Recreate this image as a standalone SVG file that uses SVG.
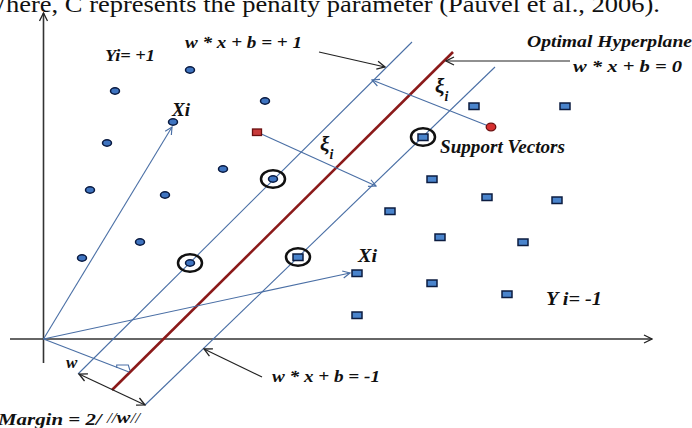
<svg xmlns="http://www.w3.org/2000/svg" width="692" height="428" viewBox="0 0 692 428">
<style>
.lbl{font-family:"Liberation Serif","Times New Roman",serif;font-style:italic;font-weight:bold;fill:#111}
.dot{fill:#3f74c0;stroke:#0a1a40;stroke-width:1.5}
.sq{fill:#4a84cc;stroke:#0c1c40;stroke-width:1.5}
.ring{fill:none;stroke:#111;stroke-width:2.5}
.bl{stroke:#4a6fa5;stroke-width:1.1;fill:none}
.bk{stroke:#222;stroke-width:1.2;fill:none}
.ax{stroke:#333;stroke-width:1.6;fill:none}
</style>
<defs>
<marker id="ab" viewBox="0 0 10 10" refX="9" refY="5" markerWidth="9" markerHeight="9" orient="auto-start-reverse" markerUnits="userSpaceOnUse"><path d="M1,1 L9,5 L1,9" fill="none" stroke="#4a6fa5" stroke-width="1.3"/></marker>
<marker id="ak" viewBox="0 0 10 10" refX="9" refY="5" markerWidth="10" markerHeight="10" orient="auto-start-reverse" markerUnits="userSpaceOnUse"><path d="M1,1 L9,5 L1,9" fill="none" stroke="#222" stroke-width="1.3"/></marker>
</defs>
<rect width="692" height="428" fill="#fff"/>
<text x="-19" y="12" font-family="Liberation Serif,Times New Roman,serif" font-size="23" fill="#111" textLength="679" lengthAdjust="spacingAndGlyphs">Where, C represents the penalty parameter (Pauvel et al., 2006).</text>

<g id="connectors">
<line class="ax" x1="43.5" y1="363" x2="43.5" y2="13" marker-end="url(#ak)"/>
<line class="ax" x1="10" y1="339" x2="652" y2="339" marker-end="url(#ak)"/>
<line class="bl" x1="412" y1="42" x2="78" y2="374"/>
<line class="bl" x1="495" y1="67" x2="145" y2="405"/>
<line x1="453" y1="52" x2="112" y2="390" stroke="#8b1a1a" stroke-width="2.6"/>
<line class="bl" x1="43.5" y1="339" x2="172" y2="127" marker-end="url(#ab)"/>
<line class="bl" x1="43.5" y1="339" x2="350" y2="273" marker-end="url(#ab)"/>
<line class="bl" x1="43.5" y1="339" x2="129" y2="372"/>
<polyline class="bl" points="116.7,368 116.7,365 128.3,365 130,370.5"/>
<line class="bl" x1="257" y1="132" x2="376" y2="186" marker-end="url(#ab)"/>
<line class="bl" x1="491" y1="127" x2="372" y2="80" marker-end="url(#ab)"/>
<line class="bk" x1="319" y1="52" x2="385" y2="67" marker-end="url(#ak)"/>
<line class="bk" x1="570" y1="61" x2="446" y2="61" marker-end="url(#ak)"/>
<line class="bk" x1="262" y1="377" x2="204" y2="349" marker-end="url(#ak)"/>
<line class="bk" x1="79" y1="374" x2="145" y2="405" marker-start="url(#ak)" marker-end="url(#ak)"/>
</g>

<g id="pos1"><ellipse class="dot" cx="190" cy="70" rx="4.5" ry="3.2"/></g>
<g id="pos2"><ellipse class="dot" cx="115" cy="91" rx="4.5" ry="3.2"/></g>
<g id="pos3"><ellipse class="dot" cx="265" cy="101" rx="4.5" ry="3.2"/></g>
<g id="pos4"><ellipse class="dot" cx="173" cy="122" rx="4.5" ry="3.2"/></g>
<g id="pos5"><ellipse class="dot" cx="107" cy="143" rx="4.5" ry="3.2"/></g>
<g id="pos6"><ellipse class="dot" cx="223" cy="169" rx="4.5" ry="3.2"/></g>
<g id="pos7"><ellipse class="dot" cx="90" cy="190" rx="4.5" ry="3.2"/></g>
<g id="pos8"><ellipse class="dot" cx="165" cy="195" rx="4.5" ry="3.2"/></g>
<g id="pos9"><ellipse class="dot" cx="140" cy="242" rx="4.5" ry="3.2"/></g>
<g id="pos10"><ellipse class="dot" cx="82" cy="258" rx="4.5" ry="3.2"/></g>
<g id="sv1"><ellipse class="dot" cx="273" cy="179" rx="4.5" ry="3.2"/><ellipse class="ring" cx="273" cy="179" rx="12" ry="8.8"/></g>
<g id="sv2"><ellipse class="dot" cx="190" cy="263" rx="4.5" ry="3.2"/><ellipse class="ring" cx="190" cy="263" rx="12" ry="8.8"/></g>
<g id="outlierSq"><rect x="252.5" y="129" width="9" height="6.5" fill="#c83a3a" stroke="#6a0f0f" stroke-width="1.3"/></g>
<g id="outlierDot"><ellipse cx="491" cy="127" rx="4.8" ry="3.8" fill="#d63030" stroke="#6a0f0f" stroke-width="1.3"/></g>

<g id="neg1"><rect class="sq" x="469" y="103" width="10" height="6.5"/></g>
<g id="neg2"><rect class="sq" x="560" y="103" width="10" height="6.5"/></g>
<g id="neg3"><rect class="sq" x="427" y="176" width="10" height="6.5"/></g>
<g id="neg4"><rect class="sq" x="482" y="194" width="10" height="6.5"/></g>
<g id="neg5"><rect class="sq" x="552" y="197" width="10" height="6.5"/></g>
<g id="neg6"><rect class="sq" x="385" y="208" width="10" height="6.5"/></g>
<g id="neg7"><rect class="sq" x="435" y="234" width="10" height="6.5"/></g>
<g id="neg8"><rect class="sq" x="518" y="239" width="10" height="6.5"/></g>
<g id="neg9"><rect class="sq" x="352" y="270" width="10" height="6.5"/></g>
<g id="neg10"><rect class="sq" x="427" y="280" width="10" height="6.5"/></g>
<g id="neg11"><rect class="sq" x="502" y="291" width="10" height="6.5"/></g>
<g id="neg12"><rect class="sq" x="352" y="312" width="10" height="6.5"/></g>
<g id="sv3"><rect class="sq" x="418" y="134" width="10" height="6.5"/><ellipse class="ring" cx="423" cy="137" rx="12" ry="8.8"/></g>
<g id="sv4"><rect class="sq" x="293" y="254" width="10" height="6.5"/><ellipse class="ring" cx="298" cy="257" rx="12" ry="8.8"/></g>

<g id="labels">
<text class="lbl" x="105" y="61" font-size="17" textLength="50" lengthAdjust="spacingAndGlyphs">Yi= +1</text>
<text class="lbl" x="185" y="48" font-size="17" textLength="117" lengthAdjust="spacingAndGlyphs">w * x + b = + 1</text>
<text class="lbl" x="527" y="47" font-size="17" textLength="165" lengthAdjust="spacingAndGlyphs">Optimal  Hyperplane</text>
<text class="lbl" x="573" y="72" font-size="17" textLength="109" lengthAdjust="spacingAndGlyphs">w * x + b =  0</text>
<text class="lbl" x="172" y="116" font-size="18" textLength="18" lengthAdjust="spacingAndGlyphs">Xi</text>
<text class="lbl" x="358" y="262" font-size="18" textLength="19" lengthAdjust="spacingAndGlyphs">Xi</text>
<text class="lbl" x="435" y="93" font-size="21" font-weight="normal">ξ<tspan font-size="14" dy="8" font-weight="bold">i</tspan></text>
<text class="lbl" x="320" y="151" font-size="21" font-weight="normal">ξ<tspan font-size="14" dy="8" font-weight="bold">i</tspan></text>
<text class="lbl" x="440" y="153" font-size="19" textLength="125" lengthAdjust="spacingAndGlyphs">Support Vectors</text>
<text class="lbl" x="546" y="305" font-size="18" textLength="56" lengthAdjust="spacingAndGlyphs">Y i=  -1</text>
<text class="lbl" x="272" y="382" font-size="17" textLength="108" lengthAdjust="spacingAndGlyphs">w * x + b = -1</text>
<text class="lbl" x="66" y="368" font-size="17">w</text>
<text class="lbl" x="-2" y="425" font-size="17" textLength="142" lengthAdjust="spacingAndGlyphs">Margin  = 2/ <tspan font-weight="normal" font-size="14" dy="-2">//</tspan><tspan>w</tspan><tspan font-weight="normal" font-size="14">//</tspan></text>
</g>
</svg>
